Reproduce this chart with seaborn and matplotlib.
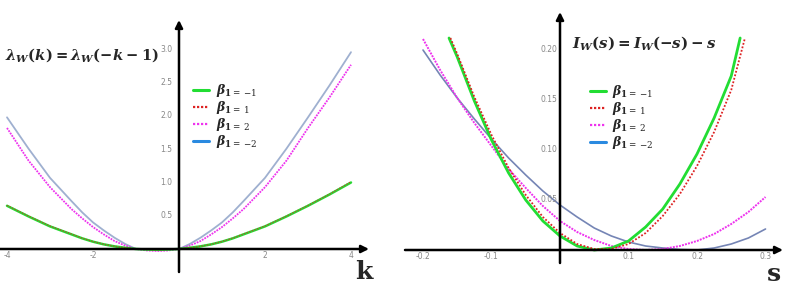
import numpy as np
import pandas as pd
import matplotlib
matplotlib.use("Agg")
import matplotlib.pyplot as plt
from matplotlib.lines import Line2D
import seaborn as sns

# ---- left panel: lambda_W(k) ----
k_vals = [-4, -3.5, -3, -2.5, -2.25, -2, -1.75, -1.5, -1.25, -1, -0.75, -0.5, -0.25, 0,
          0.25, 0.5, 0.75, 1, 1.25, 1.5, 2, 2.5, 3, 3.5, 4]
lam_b_m1 = [0.65, 0.49, 0.34, 0.22, 0.16, 0.11, 0.07, 0.04, 0.018, 0.0, -0.008, -0.012, -0.008, 0.0,
            0.018, 0.04, 0.07, 0.11, 0.16, 0.22, 0.34, 0.49, 0.65, 0.82, 1.0]
lam_b_p1 = [0.655, 0.495, 0.345, 0.225, 0.163, 0.112, 0.071, 0.041, 0.018, 0.0, -0.008, -0.012, -0.008, 0.0,
            0.018, 0.041, 0.071, 0.112, 0.163, 0.225, 0.345, 0.495, 0.655, 0.825, 1.01]
lam_b_p2 = [1.82, 1.33, 0.93, 0.60, 0.46, 0.33, 0.22, 0.12, 0.05, 0.0, -0.022, -0.03, -0.022, 0.0,
            0.05, 0.12, 0.22, 0.33, 0.46, 0.60, 0.93, 1.33, 1.82, 2.28, 2.77]
lam_b_m2 = [1.98, 1.51, 1.07, 0.72, 0.55, 0.40, 0.28, 0.17, 0.075, 0.0, -0.008, -0.012, -0.008, 0.0,
            0.075, 0.17, 0.28, 0.40, 0.55, 0.72, 1.07, 1.51, 1.98, 2.46, 2.96]

# ---- right panel: I_W(s) ----
s_green = [-0.162, -0.15, -0.125, -0.1, -0.075, -0.05, -0.025, 0.0, 0.025, 0.05, 0.075, 0.1, 0.125, 0.15, 0.175, 0.2, 0.225, 0.25, 0.263]
I_b_m1 = [0.212, 0.193, 0.149, 0.110, 0.077, 0.050, 0.029, 0.014, 0.004, 0.0, 0.002, 0.009, 0.023, 0.041, 0.066, 0.096, 0.132, 0.174, 0.212]
s_red = [-0.16, -0.15, -0.125, -0.1, -0.075, -0.05, -0.025, 0.0, 0.025, 0.05, 0.075, 0.1, 0.125, 0.15, 0.175, 0.2, 0.225, 0.25, 0.27]
I_b_p1 = [0.212, 0.196, 0.153, 0.115, 0.082, 0.055, 0.033, 0.017, 0.006, 0.001, 0.001, 0.006, 0.017, 0.034, 0.056, 0.084, 0.118, 0.160, 0.212]
s_grid = [-0.2, -0.175, -0.15, -0.125, -0.1, -0.075, -0.05, -0.025, 0.0, 0.025, 0.05, 0.075, 0.1, 0.125, 0.15, 0.175, 0.2, 0.225, 0.25, 0.275, 0.3]
I_b_p2 = [0.211, 0.180, 0.152, 0.127, 0.104, 0.081, 0.062, 0.044, 0.029, 0.018, 0.010, 0.004, 0.001, 0.0, 0.001, 0.004, 0.009, 0.016, 0.026, 0.038, 0.053]
I_b_m2 = [0.200, 0.175, 0.152, 0.131, 0.111, 0.092, 0.075, 0.059, 0.045, 0.033, 0.022, 0.014, 0.008, 0.004, 0.002, 0.0005, 0.0, 0.002, 0.006, 0.012, 0.021]

k_ticks = [-4, -2, 2, 4]
lam_ticks = [0.5, 1.0, 1.5, 2.0, 2.5, 3.0]
s_ticks = [-0.2, -0.1, 0.1, 0.2, 0.3]
I_ticks = [0.05, 0.10, 0.15, 0.20]

labels = [r'$\beta_{\mathbf{1}\mathsf{=\,{-}1}}$', r'$\beta_{\mathbf{1}\mathsf{=\,1}}$',
          r'$\beta_{\mathbf{1}\mathsf{=\,2}}$', r'$\beta_{\mathbf{1}\mathsf{=\,{-}2}}$']

sns.set_theme(style="white")
plt.rcParams['font.family'] = ['DejaVu Sans']
plt.rcParams['mathtext.fontset'] = 'custom'
plt.rcParams['mathtext.it'] = 'DejaVu Serif:italic:bold'
plt.rcParams['mathtext.rm'] = 'DejaVu Serif:bold'
plt.rcParams['mathtext.bf'] = 'DejaVu Serif:bold'
plt.rcParams['mathtext.sf'] = 'DejaVu Serif'

GREEN = '#22dd33'
RED = '#dd2222'
MAG = '#ee33ee'
BLUE_LEG = '#2a8ae0'

W, H = 785, 286
fig = plt.figure(figsize=(7.85, 2.86), dpi=100)

def px_ax(x0, x1):
    return fig.add_axes([x0 / W, 0, (x1 - x0) / W, 1])

axL = px_ax(0, 380)
axR = px_ax(390, 785)

# pixel -> data mapping chosen to match the picture
axL.set_xlim((0 - 179) / 43, (380 - 179) / 43)
axL.set_ylim((249 - 286) / 66.5, 249 / 66.5)
axR.set_xlim((390 - 560) / 685, (785 - 560) / 685)
axR.set_ylim((250 - 286) / 1000, 250 / 1000)

sns.lineplot(x=k_vals, y=lam_b_m2, ax=axL, color='#9fb0d0', lw=1.3, sort=False)
sns.lineplot(x=k_vals, y=lam_b_p2, ax=axL, color=MAG, lw=1.3, linestyle=(0, (1, 0.6)), sort=False)
sns.lineplot(x=k_vals, y=lam_b_m1, ax=axL, color=GREEN, lw=1.8, sort=False)
sns.lineplot(x=k_vals, y=lam_b_p1, ax=axL, color=RED, lw=1.0, linestyle=(0, (1, 1)), sort=False, alpha=0.7)

sns.lineplot(x=s_grid, y=I_b_m2, ax=axR, color='#7585b5', lw=1.2, sort=False)
sns.lineplot(x=s_grid, y=I_b_p2, ax=axR, color=MAG, lw=1.4, linestyle=(0, (1, 0.6)), sort=False)
sns.lineplot(x=s_green, y=I_b_m1, ax=axR, color=GREEN, lw=2.0, sort=False)
sns.lineplot(x=s_red, y=I_b_p1, ax=axR, color=RED, lw=1.3, linestyle=(0, (1, 1)), sort=False)

for ax in (axL, axR):
    for sp in ax.spines.values():
        sp.set_visible(False)
    ax.set_xticks([])
    ax.set_yticks([])
    ax.patch.set_alpha(0)

def arrow_axes(ax, x0, x1, y0, y1):
    arr = dict(arrowstyle='-|>', color='black', lw=1.8, mutation_scale=11, shrinkA=0, shrinkB=0)
    ax.annotate('', xy=(x1, 0), xytext=(x0, 0), arrowprops=arr, annotation_clip=False)
    ax.annotate('', xy=(0, y1), xytext=(0, y0), arrowprops=arr, annotation_clip=False)

arrow_axes(axL, (0 - 179) / 43, (369 - 179) / 43, (249 - 272) / 66.5, (249 - 20) / 66.5)
arrow_axes(axR, (405 - 560) / 685, (783 - 560) / 685, (250 - 263) / 1000, (250 - 12) / 1000)

tick_kw = dict(color='#888888', fontsize=5.5)
for t in k_ticks:
    axL.text(t, -0.1, f'{t}', ha='center', va='center', **tick_kw)
for t in lam_ticks:
    axL.text(-0.15, t, f'{t:.1f}', ha='right', va='center', **tick_kw)
for t in s_ticks:
    axR.text(t, -0.0065, f'{t:.1f}', ha='center', va='center', **tick_kw)
for t in I_ticks:
    axR.text(-0.004, t, f'{t:.2f}', ha='right', va='center', **tick_kw)

axL.text(4.3, -0.35, 'k', fontsize=18, fontweight='bold', family='DejaVu Serif', ha='center', va='center')
axR.text(0.312, -0.024, 's', fontsize=18, fontweight='bold', family='DejaVu Serif', ha='center', va='center')

axL.text(5 / 380, 1 - 55 / 286, r'$\lambda_W(k) = \lambda_W(-k-1)$', transform=axL.transAxes,
         fontsize=10.6, ha='left', va='center')
axR.text((572 - 390) / 395, 1 - 43 / 286, r'$I_W(s) = I_W(-s) - s$', transform=axR.transAxes,
         fontsize=10.8, ha='left', va='center')

handles = [Line2D([], [], color=GREEN, lw=2.2),
           Line2D([], [], color=RED, lw=1.6, linestyle=(0, (1, 0.8))),
           Line2D([], [], color=MAG, lw=1.6, linestyle=(0, (1, 0.8))),
           Line2D([], [], color=BLUE_LEG, lw=2.2)]
for ax, x0, y0 in ((axL, 193, 82), (axR, 590 - 390, 83)):
    w = 380 if ax is axL else 395
    ax.legend(handles, labels, loc='upper left', bbox_to_anchor=(x0 / w, 1 - y0 / 286),
              frameon=False, fontsize=9.0, handlelength=1.3, handletextpad=0.5,
              labelspacing=0.0, borderaxespad=0, borderpad=0)

fig.savefig('out.png', dpi=100)
